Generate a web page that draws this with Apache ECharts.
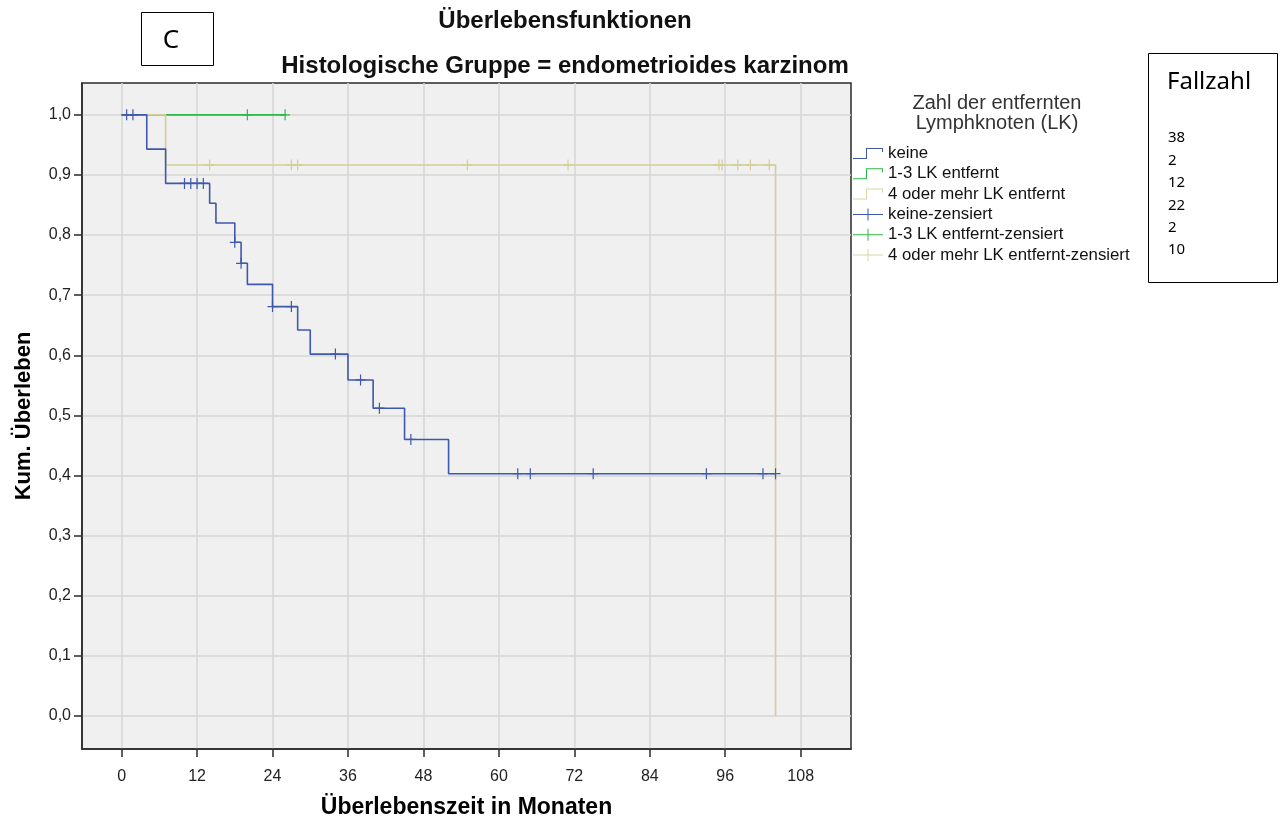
<!DOCTYPE html>
<html>
<head>
<meta charset="utf-8">
<script src="https://cdn.jsdelivr.net/npm/echarts@6/dist/echarts.min.js"></script>
<style>html,body{margin:0;padding:0;background:#fff}#c{width:1282px;height:818px}</style>
</head>
<body>
<div id="c"></div>
<script>
// ---- data ----
const xTicks = [0, 12, 24, 36, 48, 60, 72, 84, 96, 108];
const yTicks = [0, 0.1, 0.2, 0.3, 0.4, 0.5, 0.6, 0.7, 0.8, 0.9, 1.0];

const keineTimes = [0, 4, 7, 14, 15, 18, 19, 20, 24, 28, 30, 36, 40, 45, 52, 104];
const keineSurv  = [1.0, 0.943, 0.886, 0.853, 0.820, 0.788, 0.753, 0.718, 0.681, 0.642, 0.602, 0.559, 0.512, 0.460, 0.403, 0.403];
const keineCens  = [0.8, 1.8, 10, 11, 12, 13, 18, 19, 24, 27, 34, 38, 41, 46, 63, 65, 75, 93, 102, 104];

const lk13Times = [0, 26];
const lk13Surv  = [1.0, 1.0];
const lk13Cens  = [20, 26];

const lk4Times = [0, 7, 104, 104];
const lk4Surv  = [1.0, 0.9165, 0.9165, 0.0];
const lk4Cens  = [14, 27, 28, 55, 71, 95, 95.5, 98, 100, 103];

const seriesNames = ['keine', '1-3 LK entfernt', '4 oder mehr LK entfernt',
  'keine-zensiert', '1-3 LK entfernt-zensiert', '4 oder mehr LK entfernt-zensiert'];
const fallzahl = [38, 2, 12, 22, 2, 10];

// ---- helpers ----
const BLUE = '#3E58AC', GREEN = '#2EB848', BEIGE = '#D3CE97';
const COLORS = [BLUE, GREEN, BEIGE, BLUE, GREEN, BEIGE];
function pairs(t, s) { return t.map((v, i) => [v, s[i]]); }
function survAt(t, s, x) { let y = s[0]; for (let i = 0; i < t.length; i++) { if (t[i] <= x) y = s[i]; } return y; }
function censPts(times, t, s) { return times.map(x => [x, survAt(t, s, x)]); }

const stepIcon = 'path://M0,11L14,11L14,1L29,1L29,4L30,4L30,0L13,0L13,10L0,10Z';
const crossIcon = 'path://M0,5.5h14.5v-5.5h1v5.5h14.5v1h-14.5v5.5h-1v-5.5h-14.5z';
const censSym = 'path://M-0.6,-5h1.2v4.4h4.4v1.2h-4.4v4.4h-1.2v-4.4h-4.4v-1.2h4.4z';

const chart = echarts.init(document.getElementById('c'), null, { renderer: 'canvas' });
const F = 'Liberation Sans, Arial, sans-serif';
const CAL = 'Noto Sans, Open Sans, sans-serif';

function lineSeries(name, data, color, z) {
  return { name, type: 'line', step: 'end', data, showSymbol: false, symbol: 'none',
    lineStyle: { color, width: 1.6 }, itemStyle: { color }, z, animation: false };
}
function censSeries(name, data, color, z) {
  return { name, type: 'scatter', data, symbol: censSym, symbolSize: [10, 11], symbolKeepAspect: false,
    itemStyle: { color, opacity: 1 }, z, animation: false };
}

const option = {
  backgroundColor: '#fff',
  animation: false,
  grid: { left: 82, right: 431, top: 83, bottom: 69, show: true, backgroundColor: '#F0F0F0',
    borderColor: '#2a2a2a', borderWidth: 1.5, containLabel: false, outerBoundsMode: 'none' },
  xAxis: {
    type: 'value', min: -6.3, max: 116,
    name: 'Überlebenszeit in Monaten', nameLocation: 'middle', nameGap: 47,
    nameTextStyle: { fontFamily: F, fontWeight: 'bold', fontSize: 23, color: '#000' },
    axisLine: { show: true, onZero: false, lineStyle: { color: '#2a2a2a', width: 1.5 } },
    axisTick: { show: true, length: 8, customValues: xTicks, lineStyle: { color: '#2a2a2a', width: 1.5 } },
    axisLabel: { customValues: xTicks, fontFamily: F, fontSize: 16, color: '#222', margin: 20 },
    splitLine: { show: true, lineStyle: { color: '#D6D6D6', width: 1.5 } }
  },
  yAxis: {
    type: 'value', min: -0.055, max: 1.053,
    name: 'Kum. Überleben', nameLocation: 'middle', nameGap: 47, nameRotate: 90,
    nameTextStyle: { fontFamily: F, fontWeight: 'bold', fontSize: 22, color: '#000' },
    axisLine: { show: true, onZero: false, lineStyle: { color: '#2a2a2a', width: 1.5 } },
    axisTick: { show: true, length: 8, customValues: yTicks, lineStyle: { color: '#2a2a2a', width: 1.5 } },
    axisLabel: { customValues: yTicks, fontFamily: F, fontSize: 16, color: '#222', margin: 11,
      formatter: v => v.toFixed(1).replace('.', ',') },
    splitLine: { show: true, lineStyle: { color: '#D6D6D6', width: 1.5 } }
  },
  legend: {
    orient: 'vertical', left: 853, top: 145, padding: 0, itemWidth: 30, itemHeight: 12, itemGap: 3.3,
    data: seriesNames.map((n, i) => ({
      name: n, icon: i < 3 ? stepIcon : crossIcon,
      itemStyle: { color: COLORS[i], borderWidth: 0, opacity: i === 2 || i === 5 ? 0.85 : 1 },
      lineStyle: { opacity: 0, width: 0 }
    })),
    textStyle: { fontFamily: F, fontSize: 16.8, color: '#111' },
    selectedMode: false
  },
  graphic: [
    { type: 'text', x: 565, y: 21, style: { text: 'Überlebensfunktionen',
      textAlign: 'center', textVerticalAlign: 'middle', font: 'bold 24px ' + F, fill: '#111' } },
    { type: 'text', x: 565, y: 66, style: { text: 'Histologische Gruppe = endometrioides karzinom',
      textAlign: 'center', textVerticalAlign: 'middle', font: 'bold 24px ' + F, fill: '#111' } },
    { type: 'rect', shape: { x: 141.5, y: 12.5, width: 72, height: 53 }, style: { fill: '#fff', stroke: '#000', lineWidth: 1 } },
    { type: 'text', x: 171, y: 41, style: { text: 'C', textAlign: 'center', textVerticalAlign: 'middle',
      font: '26px ' + CAL, fill: '#000' } },
    { type: 'text', x: 997, y: 113, style: { text: 'Zahl der entfernten\nLymphknoten (LK)', textAlign: 'center',
      textVerticalAlign: 'middle', font: '20px ' + F, fill: '#333', lineHeight: 20 } },
    { type: 'rect', shape: { x: 1148.5, y: 53.5, width: 129, height: 229 }, style: { fill: '#fff', stroke: '#000', lineWidth: 1 } },
    { type: 'text', x: 1167, y: 82, style: { text: 'Fallzahl', textAlign: 'left', textVerticalAlign: 'middle',
      font: '24px ' + CAL, fill: '#000' } },
    { type: 'text', x: 1168, y: 127, style: { text: fallzahl.join('\n'), textAlign: 'left', textVerticalAlign: 'top',
      font: '15px ' + CAL, fill: '#000', lineHeight: 22.4 } }
  ],
  series: [
    lineSeries(seriesNames[0], pairs(keineTimes, keineSurv), BLUE, 5),
    lineSeries(seriesNames[1], pairs(lk13Times, lk13Surv), GREEN, 3),
    lineSeries(seriesNames[2], pairs(lk4Times, lk4Surv), BEIGE, 4),
    censSeries(seriesNames[3], censPts(keineCens, keineTimes, keineSurv), BLUE, 6),
    censSeries(seriesNames[4], censPts(lk13Cens, lk13Times, lk13Surv), GREEN, 3),
    censSeries(seriesNames[5], censPts(lk4Cens, lk4Times, lk4Surv), BEIGE, 4)
  ]
};
chart.setOption(option);
</script>
</body>
</html>
